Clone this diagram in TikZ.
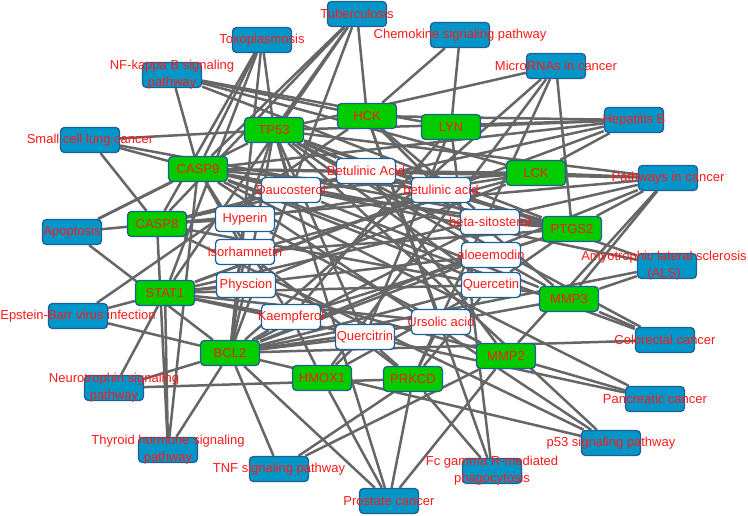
\documentclass[tikz,border=0pt]{standalone}
\usepackage{fontspec}
\setmainfont{Liberation Sans}
\definecolor{pwblue}{RGB}{0,150,200}
\definecolor{bdblue}{RGB}{30,95,150}
\definecolor{tggreen}{RGB}{0,204,0}
\definecolor{lred}{RGB}{255,25,25}
\definecolor{egray}{RGB}{102,102,102}
\pgfdeclarelayer{bg}
\pgfdeclarelayer{fg}
\pgfsetlayers{bg,main,fg}
\tikzset{
  base/.style={rounded corners=4pt, minimum width=59pt, minimum height=25pt, line width=1.3pt, inner sep=0pt, draw=bdblue},
  pw/.style={base, fill=pwblue},
  tg/.style={base, fill=tggreen},
  cp/.style={base, fill=white},
  lbl/.style={text=lred, font=\fontsize{13}{17}\selectfont, align=center, inner sep=0pt},
  edge/.style={draw=egray, line width=2.5pt}
}
\begin{document}
\begin{tikzpicture}[x=1pt,y=-1pt]
\useasboundingbox (0,0) rectangle (748,516);
% pathway nodes
\foreach \n/\x/\y in {tub/357/14, toxo/262/40, chem/460/35, mirna/556/66, hepb/634/120, nfkb/172/75, sclc/90/140, path/668/178, apop/72/232, als/667/266, ebv/78/316, colo/665/340, neuro/114/388, panc/655/399, thyr/168/450, p53/611/443, tnf/279/469, fcg/492/471, pros/389/501}
  \node[pw] (\n) at (\x,\y) {};
% target nodes
\foreach \n/\x/\y in {hck/367/116, tp53/274/130, lyn/451/127, casp9/198/169, lck/536/173, casp8/157/224, ptgs2/572/229, stat1/165/293, mmp3/569/299, bcl2/230/353, mmp2/506/356, hmox1/322/378, prkcd/413/379}
  \node[tg] (\n) at (\x,\y) {};
% compound nodes
\foreach \n/\x/\y in {betA/366/171, dauc/291/190, betb/441/190, hyp/245/219, sito/490/222, isor/245/252, aloe/491/255, phys/246/285, querc/491/285, kaem/291/317, urs/441/322, qctr/365/337}
  \node[cp] (\n) at (\x,\y) {};
\begin{pgfonlayer}{bg}
% pathway - target edges
\foreach \a/\b in {tub/tp53, tub/casp9, tub/casp8, tub/stat1, tub/bcl2, tub/hck,
  toxo/tp53, toxo/casp9, toxo/casp8, toxo/stat1, toxo/bcl2,
  nfkb/casp9, nfkb/hck, nfkb/lyn, nfkb/lck, nfkb/ptgs2,
  sclc/tp53, sclc/casp9, sclc/casp8, sclc/ptgs2,
  chem/hck, chem/lyn,
  mirna/tp53, mirna/ptgs2, mirna/hmox1, mirna/bcl2, mirna/prkcd,
  hepb/lyn, hepb/hck, hepb/tp53, hepb/casp9, hepb/casp8, hepb/stat1, hepb/lck,
  path/lck, path/ptgs2, path/mmp3, path/mmp2, path/tp53, path/casp9, path/casp8, path/stat1, path/bcl2,
  apop/casp8, apop/casp9, apop/bcl2, apop/tp53,
  als/tp53, als/mmp3, als/casp9, als/bcl2,
  ebv/stat1, ebv/bcl2, ebv/hck,
  colo/mmp3, colo/tp53, colo/bcl2, colo/casp9,
  neuro/stat1, neuro/bcl2, neuro/prkcd,
  panc/mmp2, panc/casp9, panc/stat1,
  thyr/stat1, thyr/casp9, thyr/bcl2, thyr/casp8,
  p53/tp53, p53/casp9, p53/casp8, p53/bcl2,
  tnf/bcl2, tnf/prkcd, tnf/mmp2,
  fcg/prkcd, fcg/lyn, fcg/hck,
  pros/bcl2, pros/hmox1, pros/tp53, pros/prkcd, pros/mmp2}
  \draw[edge] (\a) -- (\b);
% compound - target edges
\foreach \a/\b in {betA/tp53, betA/casp9, betA/casp8, betA/lck, betA/ptgs2, betA/mmp2,
  dauc/tp53, dauc/casp9, dauc/ptgs2, dauc/lck, dauc/mmp3,
  hyp/casp8, hyp/tp53, hyp/lck, hyp/bcl2, hyp/mmp2,
  betb/tp53, betb/casp9, betb/stat1, betb/hck, betb/ptgs2, betb/mmp3,
  isor/casp9, isor/ptgs2, isor/lck, isor/prkcd, isor/bcl2,
  sito/casp9, sito/tp53, sito/ptgs2, sito/bcl2, sito/hck,
  aloe/ptgs2, aloe/mmp3, aloe/tp53, aloe/stat1, aloe/bcl2,
  phys/stat1, phys/tp53, phys/lck, phys/mmp2, phys/bcl2,
  querc/mmp3, querc/ptgs2, querc/tp53, querc/casp9, querc/stat1, querc/bcl2, querc/hmox1, querc/prkcd, querc/casp8,
  kaem/bcl2, kaem/stat1, kaem/casp9, kaem/ptgs2, kaem/hmox1, kaem/lyn,
  urs/mmp2, urs/mmp3, urs/prkcd, urs/bcl2, urs/stat1, urs/hck,
  qctr/hmox1, qctr/prkcd, qctr/tp53, qctr/lyn, qctr/bcl2}
  \draw[edge] (\a) -- (\b);
\end{pgfonlayer}
\begin{pgfonlayer}{fg}
\node[lbl] (tub-l) at (tub) {Tuberculosis};
\node[lbl] (toxo-l) at (toxo) {Toxoplasmosis};
\node[lbl] (chem-l) at (chem) {Chemokine signaling pathway};
\node[lbl] (mirna-l) at (mirna) {MicroRNAs in cancer};
\node[lbl] (hepb-l) at (hepb) {Hepatitis B};
\node[lbl] (nfkb-l) at (nfkb) {NF-kappa B signaling\\pathway};
\node[lbl] (sclc-l) at (sclc) {Small cell lung cancer};
\node[lbl] (path-l) at (path) {Pathways in cancer};
\node[lbl] (apop-l) at (apop) {Apoptosis};
\node[lbl] (als-l) at (664,266) {Amyotrophic lateral sclerosis\\(ALS)};
\node[lbl] (ebv-l) at (ebv) {Epstein-Barr virus infection};
\node[lbl] (colo-l) at (colo) {Colorectal cancer};
\node[lbl] (neuro-l) at (neuro) {Neurotrophin signaling\\pathway};
\node[lbl] (panc-l) at (panc) {Pancreatic cancer};
\node[lbl] (thyr-l) at (thyr) {Thyroid hormone signaling\\pathway};
\node[lbl] (p53-l) at (p53) {p53 signaling pathway};
\node[lbl] (tnf-l) at (tnf) {TNF signaling pathway};
\node[lbl] (fcg-l) at (fcg) {Fc gamma R-mediated\\phagocytosis};
\node[lbl] (pros-l) at (pros) {Prostate cancer};
\node[lbl] (hck-l) at (hck) {HCK};
\node[lbl] (tp53-l) at (tp53) {TP53};
\node[lbl] (lyn-l) at (lyn) {LYN};
\node[lbl] (casp9-l) at (casp9) {CASP9};
\node[lbl] (lck-l) at (lck) {LCK};
\node[lbl] (casp8-l) at (casp8) {CASP8};
\node[lbl] (ptgs2-l) at (ptgs2) {PTGS2};
\node[lbl] (stat1-l) at (stat1) {STAT1};
\node[lbl] (mmp3-l) at (mmp3) {MMP3};
\node[lbl] (bcl2-l) at (bcl2) {BCL2};
\node[lbl] (mmp2-l) at (mmp2) {MMP2};
\node[lbl] (hmox1-l) at (hmox1) {HMOX1};
\node[lbl] (prkcd-l) at (prkcd) {PRKCD};
\node[lbl] (betA-l) at (betA) {Betulinic Acid};
\node[lbl] (dauc-l) at (dauc) {Daucosterol};
\node[lbl] (betb-l) at (betb) {betulinic acid};
\node[lbl] (hyp-l) at (hyp) {Hyperin};
\node[lbl] (sito-l) at (sito) {beta-sitosterol};
\node[lbl] (isor-l) at (isor) {isorhamnetin};
\node[lbl] (aloe-l) at (aloe) {aloeemodin};
\node[lbl] (phys-l) at (phys) {Physcion};
\node[lbl] (querc-l) at (querc) {Quercetin};
\node[lbl] (kaem-l) at (kaem) {Kaempferol};
\node[lbl] (urs-l) at (urs) {Ursolic acid};
\node[lbl] (qctr-l) at (qctr) {Quercitrin};
\end{pgfonlayer}
\end{tikzpicture}
\end{document}
